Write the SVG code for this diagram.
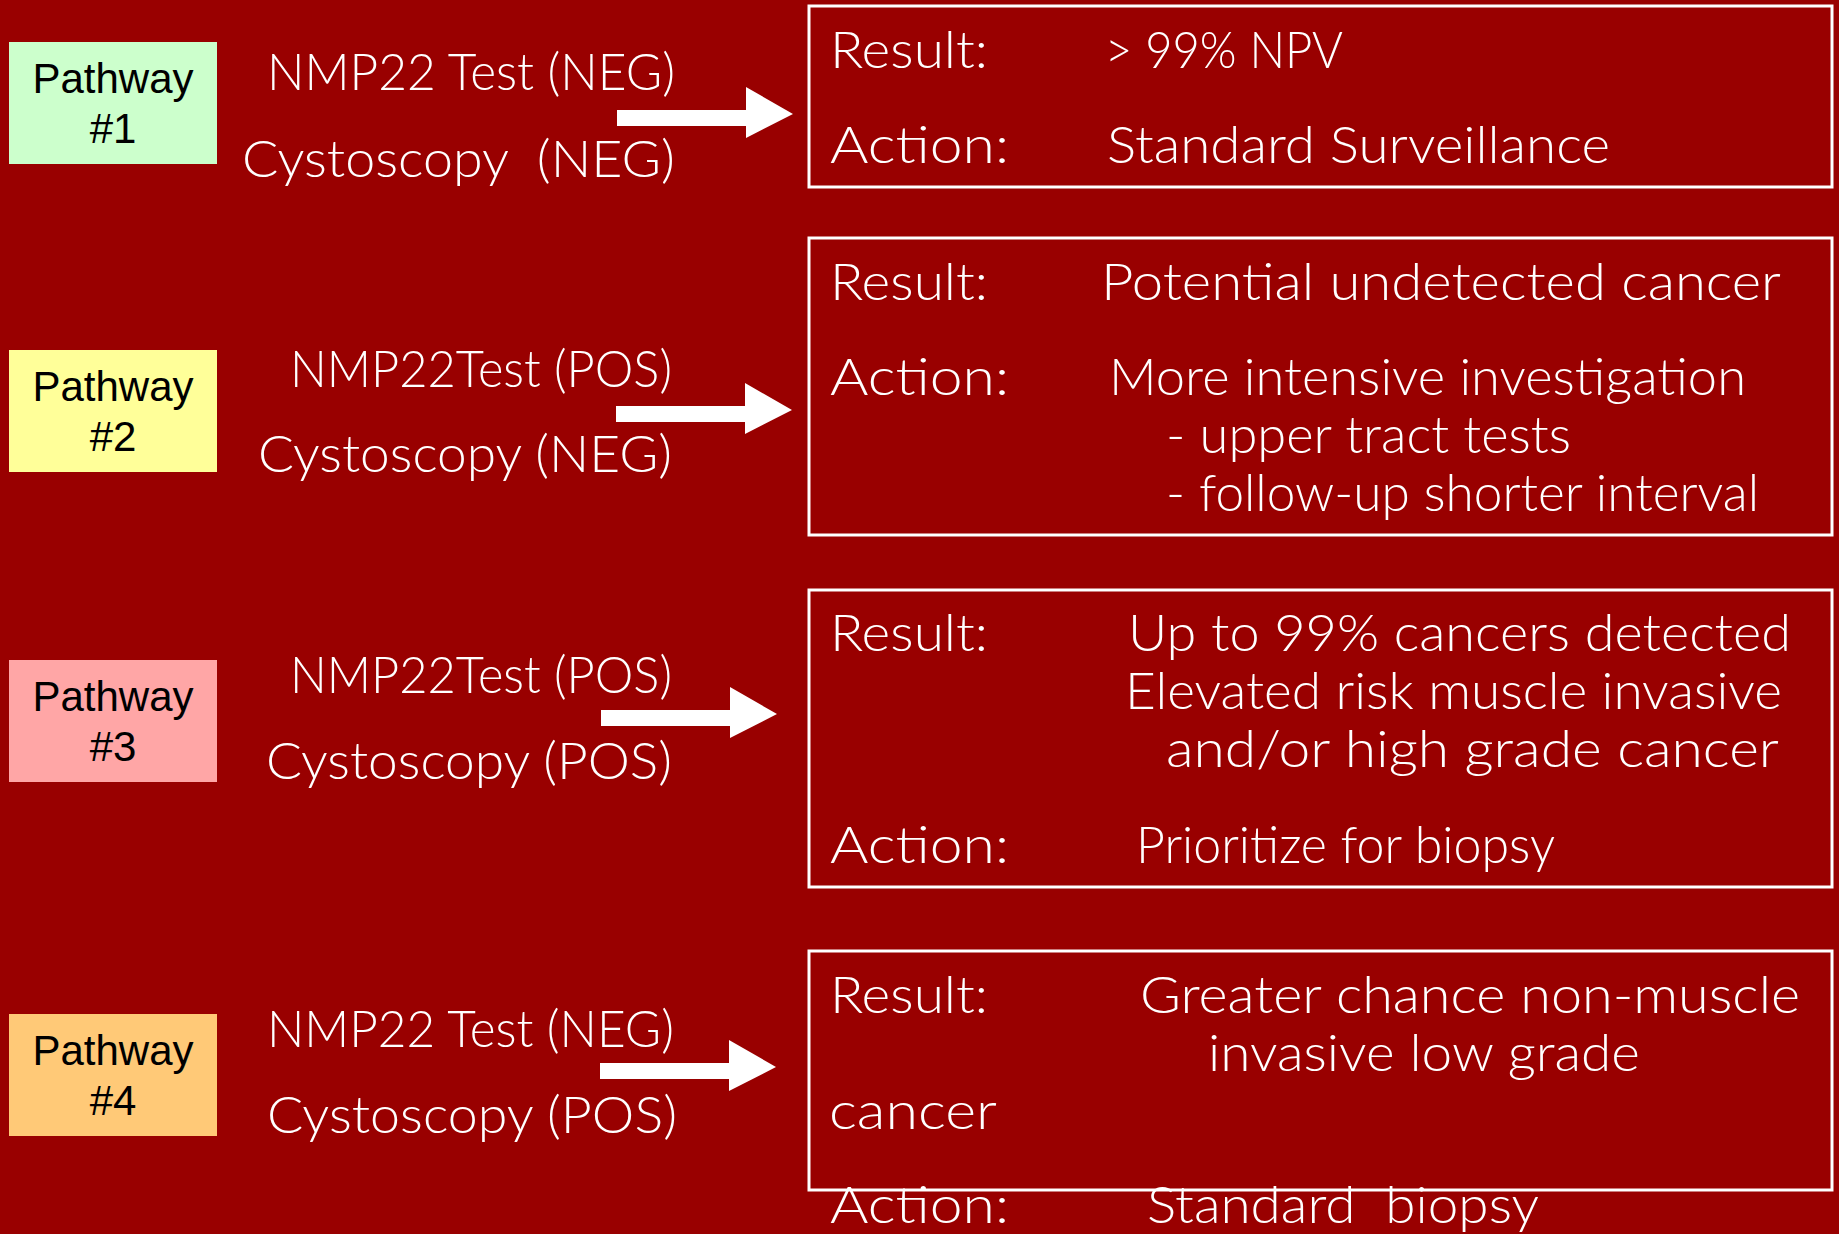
<svg xmlns="http://www.w3.org/2000/svg" width="1839" height="1234" viewBox="0 0 1839 1234">
<style>
.pw{font-family:"Liberation Sans",Arial,sans-serif;font-size:42px;fill:#000;text-anchor:middle}
.w{font-family:Lato,"Open Sans","DejaVu Sans",sans-serif;font-weight:300;font-size:52px;fill:#fff}
.box{fill:none;stroke:#fff;stroke-width:3}
.arr{fill:#fff}
</style>
<defs>
<path id="arrow" d="M0,0 H129 V-23 L176,4 L129,28 V16 H0 Z"/>
</defs>
<rect width="1839" height="1234" fill="#990000"/>

<g id="pathway1">
<rect x="9" y="42" width="208" height="122" fill="#CCFFCC"/>
<text class="pw" x="113" y="93">Pathway</text>
<text class="pw" x="113" y="143">#1</text>
</g>
<g id="pathway2">
<rect x="9" y="350" width="208" height="122" fill="#FFFF99"/>
<text class="pw" x="113" y="401">Pathway</text>
<text class="pw" x="113" y="451">#2</text>
</g>
<g id="pathway3">
<rect x="9" y="660" width="208" height="122" fill="#FFA6A6"/>
<text class="pw" x="113" y="711">Pathway</text>
<text class="pw" x="113" y="761">#3</text>
</g>
<g id="pathway4">
<rect x="9" y="1014" width="208" height="122" fill="#FFC977"/>
<text class="pw" x="113" y="1065">Pathway</text>
<text class="pw" x="113" y="1115">#4</text>
</g>

<g id="tests1">
<text class="w" x="267" y="90" textLength="408" lengthAdjust="spacingAndGlyphs">NMP22 Test (NEG)</text>
<text class="w" x="242" y="177" textLength="433" lengthAdjust="spacingAndGlyphs" xml:space="preserve">Cystoscopy  (NEG)</text>
</g>
<g id="tests2">
<text class="w" x="290" y="387" textLength="382" lengthAdjust="spacingAndGlyphs">NMP22Test (POS)</text>
<text class="w" x="258" y="472" textLength="414" lengthAdjust="spacingAndGlyphs">Cystoscopy (NEG)</text>
</g>
<g id="tests3">
<text class="w" x="290" y="693" textLength="382" lengthAdjust="spacingAndGlyphs">NMP22Test (POS)</text>
<text class="w" x="266" y="779" textLength="406" lengthAdjust="spacingAndGlyphs">Cystoscopy (POS)</text>
</g>
<g id="tests4">
<text class="w" x="267" y="1047" textLength="407" lengthAdjust="spacingAndGlyphs">NMP22 Test (NEG)</text>
<text class="w" x="267" y="1133" textLength="410" lengthAdjust="spacingAndGlyphs">Cystoscopy (POS)</text>
</g>

<g id="connectors">
<use href="#arrow" class="arr" x="617" y="110"/>
<use href="#arrow" class="arr" x="616" y="406"/>
<use href="#arrow" class="arr" x="601" y="710"/>
<use href="#arrow" class="arr" x="600" y="1063"/>
</g>

<g id="result1">
<rect class="box" x="809" y="6" width="1023" height="181"/>
<text class="w" x="830" y="68" textLength="158" lengthAdjust="spacingAndGlyphs">Result:</text>
<text class="w" x="1105" y="68" textLength="238" lengthAdjust="spacingAndGlyphs">&gt; 99% NPV</text>
<text class="w" x="830" y="163" textLength="179" lengthAdjust="spacingAndGlyphs">Action:</text>
<text class="w" x="1107" y="163" textLength="503" lengthAdjust="spacingAndGlyphs">Standard Surveillance</text>
</g>
<g id="result2">
<rect class="box" x="809" y="238" width="1023" height="297"/>
<text class="w" x="830" y="300" textLength="158" lengthAdjust="spacingAndGlyphs">Result:</text>
<text class="w" x="1101" y="300" textLength="680" lengthAdjust="spacingAndGlyphs">Potential undetected cancer</text>
<text class="w" x="830" y="395" textLength="179" lengthAdjust="spacingAndGlyphs">Action:</text>
<text class="w" x="1109" y="395" textLength="637" lengthAdjust="spacingAndGlyphs">More intensive investigation</text>
<text class="w" x="1166" y="453" textLength="405" lengthAdjust="spacingAndGlyphs">- upper tract tests</text>
<text class="w" x="1166" y="511" textLength="593" lengthAdjust="spacingAndGlyphs">- follow-up shorter interval</text>
</g>
<g id="result3">
<rect class="box" x="809" y="590" width="1023" height="297"/>
<text class="w" x="830" y="651" textLength="158" lengthAdjust="spacingAndGlyphs">Result:</text>
<text class="w" x="1128" y="651" textLength="663" lengthAdjust="spacingAndGlyphs">Up to 99% cancers detected</text>
<text class="w" x="1125" y="709" textLength="657" lengthAdjust="spacingAndGlyphs">Elevated risk muscle invasive</text>
<text class="w" x="1166" y="767" textLength="613" lengthAdjust="spacingAndGlyphs">and/or high grade cancer</text>
<text class="w" x="830" y="863" textLength="179" lengthAdjust="spacingAndGlyphs">Action:</text>
<text class="w" x="1136" y="863" textLength="419" lengthAdjust="spacingAndGlyphs">Prioritize for biopsy</text>
</g>
<g id="result4">
<rect class="box" x="809" y="951" width="1023" height="239"/>
<text class="w" x="830" y="1013" textLength="158" lengthAdjust="spacingAndGlyphs">Result:</text>
<text class="w" x="1140" y="1013" textLength="660" lengthAdjust="spacingAndGlyphs">Greater chance non-muscle</text>
<text class="w" x="1208" y="1071" textLength="432" lengthAdjust="spacingAndGlyphs">invasive low grade</text>
<text class="w" x="829" y="1129" textLength="168" lengthAdjust="spacingAndGlyphs">cancer</text>
<text class="w" x="830" y="1223" textLength="179" lengthAdjust="spacingAndGlyphs">Action:</text>
<text class="w" x="1147" y="1223" textLength="392" lengthAdjust="spacingAndGlyphs" xml:space="preserve">Standard  biopsy</text>
</g>
</svg>
